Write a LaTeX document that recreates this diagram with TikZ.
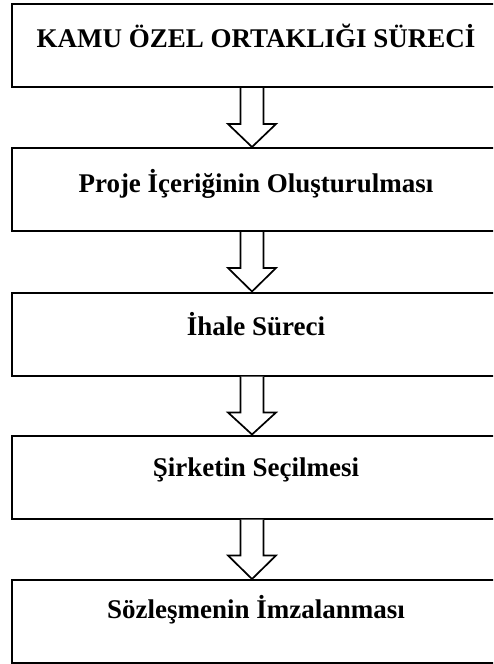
\documentclass[tikz,border=0pt]{standalone}
\usepackage{fontspec}
\setmainfont{Liberation Serif}
\usetikzlibrary{calc}
\tikzset{
  stagebox/.style={draw=black, line width=2pt, minimum width=488pt, minimum height=83pt, inner sep=0pt},
  stagetext/.style={anchor=base, font=\fontsize{27}{30}\selectfont\bfseries, inner sep=0pt},
  flowarrow/.style={draw=black, fill=white, line width=1.7pt, line join=miter},
}
% hollow block arrow from the bottom of box #1 to the top of box #2
\newcommand{\downarrowshape}[2]{%
  \path[flowarrow] ($(#1.south)+(-15.5,0)$) -- ($(#1.south)+(-15.5,36)$)
    -- ($(#1.south)+(-28,36)$) -- ($(#2.north)+(-4,0)$)
    -- ($(#1.south)+(20,36)$) -- ($(#1.south)+(7.5,36)$)
    -- ($(#1.south)+(7.5,0)$);}
\begin{document}
\begin{tikzpicture}[x=1pt,y=-1pt]
  \useasboundingbox (0,0) rectangle (493,664);
  \begin{scope}
  \clip (0,0) rectangle (493,664);
  \node[stagebox] (b1) at (256,45.5) {};
  \node[stagebox] (b2) at (256,189.5) {};
  \node[stagebox] (b3) at (256,334) {};
  \node[stagebox] (b4) at (256,477) {};
  \node[stagebox] (b5) at (256,621.5) {};
  \end{scope}
  \node[stagetext] (t1) at ($(b1.north)+(0,44)$) {KAMU ÖZEL ORTAKLIĞI SÜRECİ};
  \node[stagetext] (t2) at ($(b2.north)+(0,45)$) {Proje İçeriğinin Oluşturulması};
  \node[stagetext] (t3) at ($(b3.north)+(0,44)$) {İhale Süreci};
  \node[stagetext] (t4) at ($(b4.north)+(0,42)$) {Şirketin Seçilmesi};
  \node[stagetext] (t5) at ($(b5.north)+(0,39)$) {Sözleşmenin İmzalanması};
  \downarrowshape{b1}{b2}
  \downarrowshape{b2}{b3}
  \downarrowshape{b3}{b4}
  \downarrowshape{b4}{b5}
\end{tikzpicture}
\end{document}
